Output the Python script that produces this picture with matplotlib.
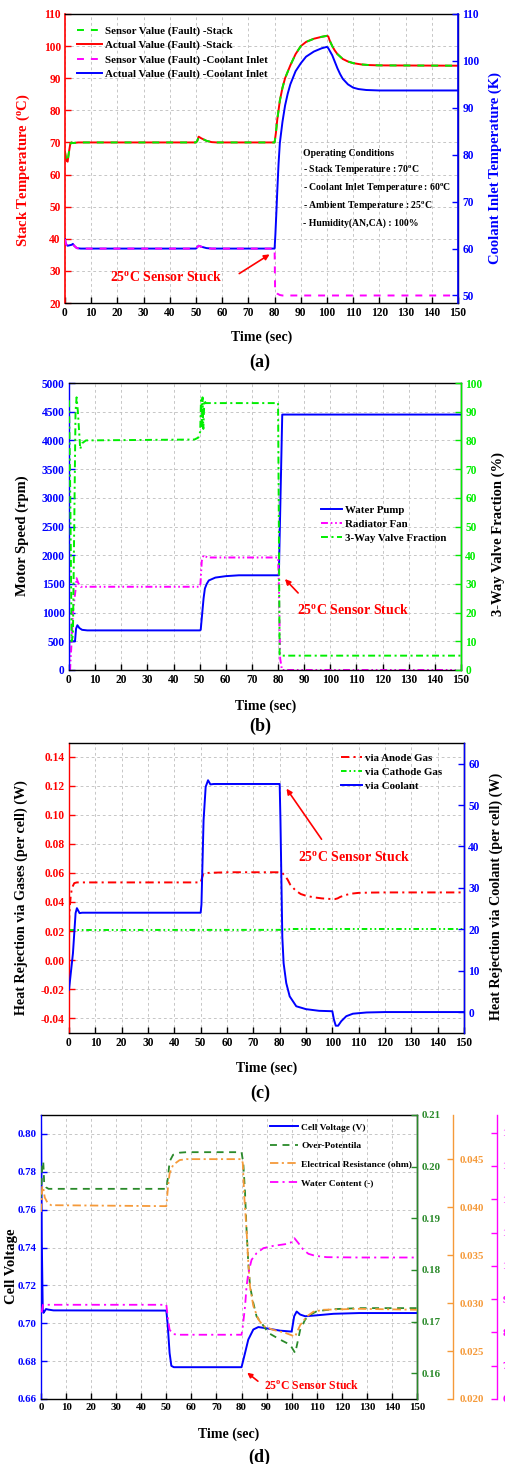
import matplotlib
matplotlib.use('Agg')
import matplotlib.pyplot as plt
from matplotlib.ticker import MultipleLocator, FormatStrFormatter

W, H = 505, 1464
plt.rcParams.update({
    'font.family': ['Liberation Serif', 'DejaVu Serif'],
    'font.weight': 'bold',
    'axes.unicode_minus': False,
    'mathtext.fontset': 'custom',
    'mathtext.rm': 'Liberation Serif:bold',
    'mathtext.it': 'Liberation Serif:bold:italic',
    'mathtext.bf': 'Liberation Serif:bold',
    'mathtext.default': 'rm',
    'lines.scale_dashes': False,
    'axes.linewidth': 1.0,
})

RED = '#ff0000'; BLUE = '#0000ff'; LIME = '#00ee00'; MAG = '#ff00ff'
DGREEN = '#2a8a2a'; ORANGE = '#f59a3a'

# ---------------- Panel (a) data ----------------
t_stack = [0, 0.5, 1, 1.5, 2, 2.5, 3, 5, 50, 50.5, 51, 52, 54, 56, 58, 80, 80.5, 81, 82, 83, 84,
           86, 88, 90, 92, 95, 98, 100, 100.5, 101, 102, 103, 104, 106, 108, 110, 113, 116, 120, 150]
stack_temp = [67, 64.5, 64, 67, 69.5, 70, 69.8, 70, 70, 70.5, 71.8, 71.3, 70.5, 70.1, 70, 70, 73, 77, 83, 87, 90,
              94, 97.5, 100, 101.3, 102.3, 102.9, 103.2, 103, 101.8, 100, 98.6, 97.5, 96, 95.2, 94.7, 94.3, 94.1, 94, 93.9]
t_cool = [0, 0.3, 1, 2.5, 3, 3.5, 4.5, 6, 50, 50.5, 51, 52, 54, 56, 80, 80.3, 80.7, 81, 81.5, 82, 83, 84, 85, 86,
          88, 90, 92, 95, 98, 100, 100.5, 101, 102, 103, 104, 105, 106, 108, 110, 112, 115, 120, 150]
cool_actual = [62, 61, 60.6, 60.8, 61, 60.6, 60.1, 60, 60, 60.3, 60.6, 60.4, 60.1, 60, 60, 63, 68, 72, 78, 82.5, 87, 90.5, 93, 95,
               97.8, 99.5, 100.9, 102, 102.7, 103, 102.7, 102.2, 101.2, 99.8, 98.4, 97.2, 96.2, 95, 94.3, 94, 93.8, 93.7, 93.7]
t_cool_sensor = [0, 0.3, 1, 2.5, 3, 3.5, 4.5, 6, 50, 50.5, 51, 52, 54, 56, 80, 80.2, 81, 82, 83, 150]
cool_sensor = [62, 61, 60.6, 60.8, 61, 60.6, 60.1, 60, 60, 60.3, 60.6, 60.4, 60.1, 60, 60, 50.8, 50.4, 50.1, 50, 50]
legend_a = ['Sensor Value (Fault) -Stack', 'Actual Value (Fault) -Stack',
            'Sensor Value (Fault) -Coolant Inlet', 'Actual Value (Fault) -Coolant Inlet']
conditions = ['Operating Conditions', '- Stack Temperature : 70$^{o}$C',
              '- Coolant Inlet Temperature : 60$^{o}$C', '- Ambient Temperature : 25$^{o}$C',
              '- Humidity(AN,CA) : 100%']

# ---------------- Panel (b) data ----------------
t_pump = [0, 0.1, 2.3, 2.7, 3.2, 4, 5, 7, 50, 50.4, 51, 51.5, 52, 52.7, 53.5, 56, 60, 65, 80, 80.3, 81.6, 150]
pump = [0, 500, 500, 720, 780, 730, 700, 690, 690, 700, 1000, 1250, 1420, 1500, 1560, 1610, 1635, 1650, 1650, 1650, 4450, 4450]
t_fan = [0, 0.4, 1, 1.5, 2, 2.5, 2.9, 3.5, 4.5, 50, 50.3, 50.8, 51.5, 53, 80, 80.3, 80.8, 81.5, 148]
fan = [0, 0, 500, 1000, 1200, 1400, 1600, 1520, 1450, 1450, 1500, 1900, 2000, 1960, 1960, 1500, 200, 0, 0]
t_valve = [0, 0.5, 1.0, 1.5, 2, 2.5, 2.9, 3.4, 4.3, 5, 6.5, 48, 49.5, 50.2, 50.5, 50.8, 51.1, 51.4, 51.8, 52.3,
           80, 80.3, 80.6, 150]
valve = [94, 60, 10, 12, 50, 90, 95, 90, 77, 79, 80, 80.3, 81, 83, 94, 85, 95, 84, 94, 93,
         93, 50, 5, 5]
legend_b = ['Water Pump', 'Radiator Fan', '3-Way Valve Fraction']

# ---------------- Panel (c) data ----------------
t_anode = [0, 0.3, 0.7, 1.2, 2, 3, 50, 50.5, 51, 52, 55, 60, 80, 81, 82, 83, 84, 85, 86, 88, 90, 93, 96,
           100, 101, 102, 103, 105, 107, 110, 115, 120, 150]
anode = [0.025, 0.037, 0.045, 0.05, 0.053, 0.0535, 0.0535, 0.0565, 0.0595, 0.06, 0.0602, 0.0605, 0.0605, 0.06,
         0.058, 0.0555, 0.052, 0.05, 0.048, 0.0455, 0.0443, 0.0432, 0.0425, 0.042, 0.042, 0.0425, 0.0435, 0.0448,
         0.0457, 0.0463, 0.0465, 0.0466, 0.0466]
t_cathode = [0, 80, 85, 150]
cathode = [0.0207, 0.0208, 0.0214, 0.0214]
t_coolant = [0, 1.5, 2.5, 3, 4, 5, 50, 50.3, 51.1, 51.9, 52.8, 53.7, 55, 80, 80.3, 81, 81.5, 82.5, 83.8, 86.3,
             90, 95, 100, 100.6, 101.3, 102.2, 103.4, 105.3, 107.8, 113, 120, 150]
coolant = [5.4, 14.2, 23.9, 25.1, 23.9, 24, 24, 26, 46.3, 54.4, 56, 55, 55.1, 55.1, 46.3, 18.2, 11.8, 7, 3.8, 1.4,
           0.7, 0.3, 0.2, -1.8, -3.3, -3.3, -2.2, -1, -0.4, -0.1, 0, 0]
legend_c = ['via Anode Gas', 'via Cathode Gas', 'via Coolant']

# ---------------- Panel (d) data ----------------
t_cv = [0, 0.3, 0.7, 1.0, 1.5, 2, 3, 5, 50, 50.5, 51.3, 52, 53, 80, 81.4, 82.7, 84.7, 86.7, 88.7, 91.4, 95.4,
        100, 101, 102, 103.4, 105.4, 110, 116.7, 127, 150]
cell_v = [0.81, 0.745, 0.707, 0.7055, 0.7065, 0.7075, 0.7072, 0.7068, 0.7067, 0.700, 0.6843, 0.6775, 0.6768,
          0.6768, 0.6843, 0.6914, 0.6967, 0.698, 0.6976, 0.697, 0.6961, 0.6956, 0.7037, 0.7062, 0.7046, 0.7037,
          0.7042, 0.705, 0.7054, 0.7054]
t_op = [0, 0.5, 0.9, 1.3, 2, 3, 50, 50.7, 51.3, 52.7, 55.3, 58, 80, 80.7, 81.4, 82, 82.7, 83.4, 84.7, 86, 88,
        90.7, 95.4, 99.4, 101.4, 102, 103.4, 105.4, 107.4, 110, 116.7, 127, 150]
over_pot = [0.194, 0.2005, 0.201, 0.1965, 0.1960, 0.1957, 0.1957, 0.1981, 0.201, 0.2023, 0.2027, 0.2028, 0.2028,
            0.2007, 0.1949, 0.1878, 0.1813, 0.1768, 0.1736, 0.171, 0.1697, 0.1678, 0.1665, 0.1655, 0.1639, 0.1652,
            0.1684, 0.1704, 0.1713, 0.172, 0.1724, 0.1726, 0.1726]
t_res = [0, 0.5, 1.0, 1.5, 2.5, 4, 50, 50.7, 51.3, 52.7, 55.3, 58, 80, 80.5, 81.1, 82, 82.7, 83.4, 84.7, 86.7,
         88.7, 92.7, 97.4, 101.4, 102, 103.4, 106, 108.7, 112.7, 127, 150]
resist = [0.0395, 0.0422, 0.0418, 0.041, 0.0405, 0.0402, 0.0401, 0.0422, 0.0435, 0.0444, 0.0449, 0.045, 0.045,
          0.0446, 0.0411, 0.0376, 0.0342, 0.0317, 0.0297, 0.0283, 0.0276, 0.0272, 0.0269, 0.0265, 0.0269, 0.0277,
          0.0286, 0.0291, 0.0293, 0.0294, 0.0293]
t_wc = [0.3, 0.8, 50, 50.7, 51.3, 52.7, 55, 80, 80.5, 81.4, 82, 82.7, 84, 86, 88.7, 92.7, 97.4, 99.7, 101.1,
        102.7, 104.7, 106.7, 109.4, 114, 127, 150]
water = [8.6, 8.83, 8.83, 8.38, 8.08, 7.95, 7.93, 7.93, 8.18, 8.78, 9.38, 9.78, 10.18, 10.38, 10.53, 10.6, 10.65,
         10.7, 10.83, 10.68, 10.48, 10.36, 10.3, 10.26, 10.25, 10.25]
legend_d = ['Cell Voltage (V)', 'Over-Potentila', 'Electrical Resistance (ohm)', 'Water Content (-)']

stuck_text = '25$^{o}$C Sensor Stuck'

fig = plt.figure(figsize=(W / 100, H / 100), dpi=100)


def rect(l, t, r, b):
    return [l / W, 1 - b / H, (r - l) / W, (b - t) / H]


def fp(x, y):
    return (x / W, 1 - y / H)


def grid(ax):
    ax.grid(True, color='#bdbdbd', linestyle=(0, (2, 2)), linewidth=0.6)
    ax.set_axisbelow(True)


def base(ax, lcolor, lspine):
    ax.set_xlim(0, 150)
    ax.xaxis.set_major_locator(MultipleLocator(10))
    ax.tick_params(axis='x', direction='in', length=4, width=1, labelsize=8.3, colors='black', pad=3)
    ax.tick_params(axis='y', direction='in', length=4, width=1, labelsize=8.3, colors=lcolor, pad=3)
    ax.spines['left'].set_color(lspine)


def right(ax2, color, spine):
    ax2.tick_params(axis='y', direction='in', length=4, width=1, labelsize=8.3, colors=color, pad=3)
    ax2.spines['right'].set_color(spine)
    for s in ['top', 'left', 'bottom']:
        ax2.spines[s].set_visible(False)


LEG = dict(bbox_transform=fig.transFigure, frameon=False, borderpad=0, borderaxespad=0, loc='upper left')

# ======================= (a) =======================
ax = fig.add_axes(rect(65, 14, 458, 303))
base(ax, RED, RED)
ax.set_ylim(20, 110)
ax.yaxis.set_major_locator(MultipleLocator(10))
grid(ax)
ax2 = ax.twinx()
ax2.set_ylim(48.4, 110)
ax2.yaxis.set_major_locator(MultipleLocator(10))
right(ax2, BLUE, BLUE)
ax.spines['left'].set_linewidth(1.2)
ax2.spines['right'].set_linewidth(1.2)

l_ra, = ax.plot(t_stack, stack_temp, color=RED, lw=1.4)
l_gs, = ax.plot(t_stack, stack_temp, color=LIME, lw=1.4, dashes=(5, 5))
l_ba, = ax2.plot(t_cool, cool_actual, color=BLUE, lw=1.4)
l_ms, = ax2.plot(t_cool_sensor, cool_sensor, color=MAG, lw=1.4, dashes=(5, 5))
ax2.legend([l_gs, l_ra, l_ms, l_ba], legend_a, bbox_to_anchor=fp(77, 26), fontsize=7.8,
           handlelength=2.3, handletextpad=0.3, labelspacing=0.42, **LEG)
ys = [153, 170, 188, 205, 223]
for s, y in zip(conditions, ys):
    fig.text(303 / W, 1 - y / H, s, fontsize=7, va='center', ha='left')
ax.annotate('', xy=(79.0, 35.6), xytext=(65.6, 28.7),
            arrowprops=dict(arrowstyle='-|>', color=RED, lw=1.2, mutation_scale=8))
ax.text(38.5, 28.1, stuck_text, color=RED, fontsize=10, ha='center', va='center')
fig.text(*fp(23, 170), 'Stack Temperature ($^{o}$C)', color=RED, fontsize=10.6, rotation=90,
         ha='center', va='center')
fig.text(*fp(495, 168), 'Coolant Inlet Temperature (K)', color=BLUE, fontsize=10.5, rotation=90,
         ha='center', va='center')
fig.text(*fp(262, 337), 'Time (sec)', fontsize=10, ha='center', va='center')
fig.text(*fp(260, 362), '(a)', fontsize=13, ha='center', va='center')

# ======================= (b) =======================
ax = fig.add_axes(rect(69, 383, 461, 670))
base(ax, BLUE, BLUE)
ax.set_ylim(0, 5000)
ax.yaxis.set_major_locator(MultipleLocator(500))
grid(ax)
ax2 = ax.twinx()
ax2.set_ylim(0, 100)
ax2.yaxis.set_major_locator(MultipleLocator(10))
right(ax2, LIME, LIME)
l_p, = ax.plot(t_pump, pump, color=BLUE, lw=1.4)
l_f, = ax.plot(t_fan, fan, color=MAG, lw=1.4, dashes=(5, 2, 1.2, 2, 1.2, 2))
l_v, = ax2.plot(t_valve, valve, color=LIME, lw=1.4, dashes=(5, 2.5, 1.5, 2.5))
ax2.legend([l_p, l_f, l_v], legend_b, bbox_to_anchor=fp(321, 505), fontsize=7.8,
           handlelength=1.9, handletextpad=0.3, labelspacing=0.42, **LEG)
ax.annotate('', xy=(81.9, 1620), xytext=(88.4, 1307),
            arrowprops=dict(arrowstyle='-|>', color=RED, lw=1.2, mutation_scale=8))
ax.text(108.7, 1045, stuck_text, color=RED, fontsize=10, ha='center', va='center')
fig.text(*fp(22, 536), 'Motor Speed (rpm)', fontsize=10.5, rotation=90, ha='center', va='center')
fig.text(*fp(498, 534), '3-Way Valve Fraction (%)', fontsize=10.5, rotation=90, ha='center', va='center')
fig.text(*fp(266, 706), 'Time (sec)', fontsize=10, ha='center', va='center')
fig.text(*fp(260, 726), '(b)', fontsize=13, ha='center', va='center')

# ======================= (c) =======================
ax = fig.add_axes(rect(69, 743, 464, 1033))
base(ax, RED, RED)
ax.set_ylim(-0.0503, 0.1496)
ax.set_yticks([-0.04, -0.02, 0.0, 0.02, 0.04, 0.06, 0.08, 0.10, 0.12, 0.14])
ax.yaxis.set_major_formatter(FormatStrFormatter('%.2f'))
grid(ax)
ax2 = ax.twinx()
ax2.set_ylim(-5.06, 65)
ax2.set_yticks([0, 10, 20, 30, 40, 50, 60])
right(ax2, BLUE, BLUE)
l_an, = ax.plot(t_anode, anode, color=RED, lw=1.4, dashes=(6, 3, 1.5, 3))
l_ca, = ax.plot(t_cathode, cathode, color=LIME, lw=1.4, dashes=(4, 2, 1.2, 2, 1.2, 2))
l_co, = ax2.plot(t_coolant, coolant, color=BLUE, lw=1.4)
ax2.legend([l_an, l_ca, l_co], legend_c, bbox_to_anchor=fp(341, 753), fontsize=7.8,
           handlelength=1.9, handletextpad=0.3, labelspacing=0.42, **LEG)
ax.annotate('', xy=(82.0, 0.1197), xytext=(96.5, 0.0817),
            arrowprops=dict(arrowstyle='-|>', color=RED, lw=1.2, mutation_scale=8))
ax.text(108.4, 0.0707, stuck_text, color=RED, fontsize=10, ha='center', va='center')
fig.text(*fp(21, 898), 'Heat Rejection via Gases (per cell) (W)', fontsize=10.2, rotation=90,
         ha='center', va='center')
fig.text(*fp(496, 896), 'Heat Rejection via Coolant (per cell) (W)', fontsize=10.2, rotation=90,
         ha='center', va='center')
fig.text(*fp(267, 1068), 'Time (sec)', fontsize=10, ha='center', va='center')
fig.text(*fp(260, 1093), '(c)', fontsize=13, ha='center', va='center')

# ======================= (d) =======================
ax = fig.add_axes(rect(41, 1115, 417, 1399))
base(ax, BLUE, BLUE)
ax.tick_params(axis='both', labelsize=7.8)
ax.set_ylim(0.66, 0.81)
ax.set_yticks([0.66, 0.68, 0.70, 0.72, 0.74, 0.76, 0.78, 0.80])
ax.yaxis.set_major_formatter(FormatStrFormatter('%.2f'))
grid(ax)
axg = ax.twinx()
axg.set_ylim(0.155, 0.21)
axg.set_yticks([0.16, 0.17, 0.18, 0.19, 0.20, 0.21])
axg.yaxis.set_major_formatter(FormatStrFormatter('%.2f'))
right(axg, DGREEN, DGREEN)
axg.tick_params(axis='y', labelsize=7.8)
axo = ax.twinx()
axo.set_ylim(0.020, 0.0496)
axo.set_yticks([0.020, 0.025, 0.030, 0.035, 0.040, 0.045])
axo.yaxis.set_major_formatter(FormatStrFormatter('%.3f'))
axo.spines['right'].set_position(('axes', (453 - 41) / (417 - 41)))
right(axo, ORANGE, ORANGE)
axo.tick_params(axis='y', labelsize=7.8, pad=5)
axm = ax.twinx()
axm.set_ylim(6, 14.53)
axm.set_yticks(list(range(6, 15)))
axm.spines['right'].set_position(('axes', (497 - 41) / (417 - 41)))
right(axm, MAG, MAG)
axm.tick_params(axis='y', labelsize=7.8, pad=4)

l_cv, = ax.plot(t_cv, cell_v, color=BLUE, lw=1.4, zorder=5)
l_op, = axg.plot(t_op, over_pot, color=DGREEN, lw=1.3, dashes=(5, 4))
l_rs, = axo.plot(t_res, resist, color=ORANGE, lw=1.3, dashes=(6, 2.5, 1.5, 2.5))
l_wc, = axm.plot(t_wc, water, color=MAG, lw=1.3, dashes=(6, 3, 1.5, 3))
axm.legend([l_cv, l_op, l_rs, l_wc], legend_d, bbox_to_anchor=fp(270, 1123), fontsize=6.8,
           handlelength=3.0, handletextpad=0.33, labelspacing=1.05, **LEG)
ax.annotate('', xy=(81.4, 0.6748), xytext=(87.4, 0.6685),
            arrowprops=dict(arrowstyle='-|>', color=RED, lw=1.2, mutation_scale=7))
ax.text(108.1, 0.6669, stuck_text, color=RED, fontsize=8.5, ha='center', va='center')
fig.text(*fp(12, 1266), 'Cell Voltage', fontsize=10.5, rotation=90, ha='center', va='center')
fig.text(*fp(229, 1434), 'Time (sec)', fontsize=10, ha='center', va='center')
fig.text(*fp(259, 1457), '(d)', fontsize=13, ha='center', va='center')

fig.savefig('out.png', dpi=100)
